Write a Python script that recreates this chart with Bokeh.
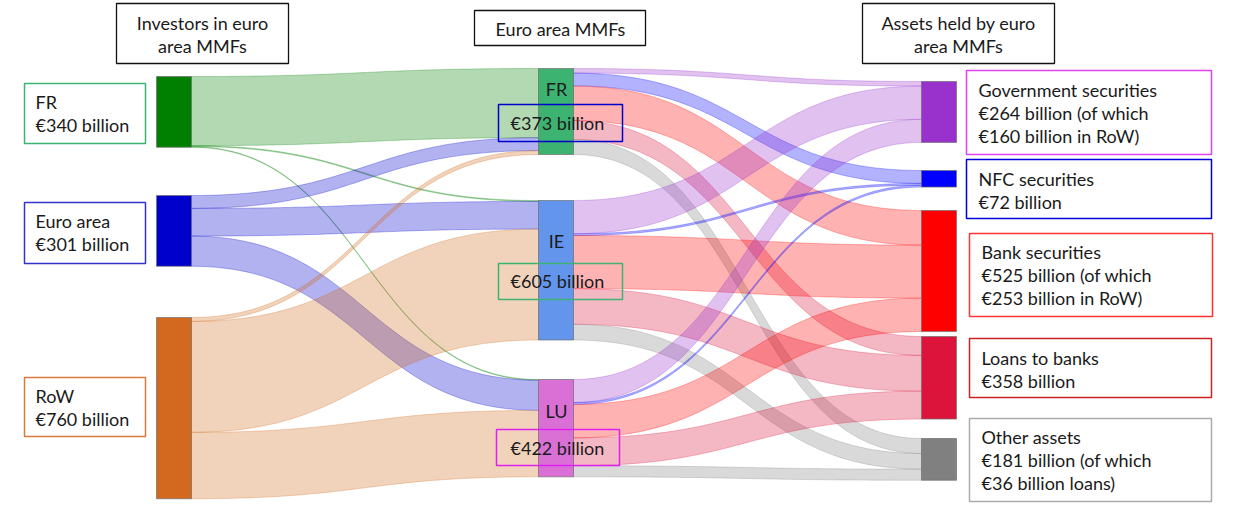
import numpy as np
from bokeh.plotting import figure
from bokeh.models import Range1d
from bokeh.core.properties import value
from bokeh.embed import file_html
from bokeh.resources import INLINE

# ---------------- data (EUR billion) ----------------
investor_names = ["FR", "Euro area", "RoW"]
investor_totals = [340, 301, 760]
mmf_names = ["FR", "IE", "LU"]
mmf_totals = [373, 605, 422]
asset_names = ["Government securities", "NFC securities", "Bank securities",
               "Loans to banks", "Other assets"]
asset_totals = [264, 72, 525, 358, 181]
asset_of_which = ["€160 billion in RoW)", None, "€253 billion in RoW)", None,
                  "€36 billion loans)"]

# investor -> MMF domicile flows (FR, IE, LU)
flows_from_FR = [300, 4, 3]
flows_from_EA = [56, 120, 131]
flows_from_RoW = [17, 481, 288]
# MMF domicile -> asset flows (Gov, NFC, Bank, Loans, Other)
flows_mmf_FR = [20, 56, 150, 82, 65]
flows_mmf_IE = [144, 8, 230, 155, 68]
flows_mmf_LU = [100, 8, 145, 121, 48]

header_titles = [["Investors in euro", "area MMFs"], ["Euro area MMFs"],
                 ["Assets held by euro", "area MMFs"]]

# ---------------- styling / layout ----------------
FONT = "Lato"
FS = "18px"
PX = 0.2306  # pixels per EUR billion
col_x = [(156, 191), (538, 573), (921, 956)]
node_tops = [[76, 195, 317], [68, 200, 379], [81, 170, 210, 336, 438]]
node_colors = [["#008000", "#0000CD", "#D2691E"],
               ["#3CB371", "#6495ED", "#DA70D6"],
               ["#9932CC", "#0000FF", "#FF0000", "#DC143C", "#808080"]]

m1 = np.array([flows_from_FR, flows_from_EA, flows_from_RoW], dtype=float)
m2 = np.array([flows_mmf_FR, flows_mmf_IE, flows_mmf_LU], dtype=float)
sizes = [m1.sum(axis=1), m1.sum(axis=0), m2.sum(axis=0)]

p = figure(width=1240, height=506, x_range=Range1d(0, 1240), y_range=Range1d(506, 0),
           output_backend="svg", toolbar_location=None, min_border=0)
p.axis.visible = False
p.grid.visible = False
p.outline_line_color = None
p.background_fill_color = "white"


def band(x0, x1, y0a, y0b, y1a, y1b, n=60):
    t = np.linspace(0, 1, n)
    xm = (x0 + x1) / 2
    bx = (1 - t) ** 3 * x0 + 3 * (1 - t) ** 2 * t * xm + 3 * (1 - t) * t ** 2 * xm + t ** 3 * x1

    def by(a, b):
        return (1 - t) ** 3 * a + 3 * (1 - t) ** 2 * t * a + 3 * (1 - t) * t ** 2 * b + t ** 3 * b
    top = by(y0a, y1a)
    bot = by(y0b, y1b)
    return list(np.concatenate([bx, bx[::-1]])), list(np.concatenate([top, bot[::-1]]))


def draw_links(mat, c_src, c_tgt, colors_by):
    ns, nt = mat.shape
    xs_all, ys_all, cols = [], [], []
    tgt_start = {}
    for j in range(nt):
        off = node_tops[c_tgt][j]
        for i in range(ns):
            tgt_start[(i, j)] = off
            off += mat[i, j] * PX
    for i in range(ns):
        off = node_tops[c_src][i]
        for j in range(nt):
            h = mat[i, j] * PX
            y1a = tgt_start[(i, j)]
            bx, by = band(col_x[c_src][1], col_x[c_tgt][0], off, off + h, y1a, y1a + h)
            off += h
            xs_all.append(bx)
            ys_all.append(by)
            cols.append(colors_by(i, j))
    p.patches(xs_all, ys_all, fill_color=cols, fill_alpha=0.3,
              line_color=cols, line_alpha=0.35, line_width=0.8)


draw_links(m1, 0, 1, lambda i, j: node_colors[0][i])
draw_links(m2, 1, 2, lambda i, j: node_colors[2][j])

# nodes
for c in range(3):
    tops = np.array(node_tops[c], dtype=float)
    bots = tops + sizes[c] * PX
    p.quad(left=col_x[c][0], right=col_x[c][1], top=tops, bottom=bots,
           fill_color=node_colors[c], line_color="#6f6f6f", line_width=1, line_alpha=0.7)


def box(x0, x1, y0, y1, color, lw=1.5, fill="white"):
    p.quad(left=x0, right=x1, top=y0, bottom=y1, fill_color=fill,
           fill_alpha=1 if fill else 0, line_color=color, line_width=lw)


def lines(x, y0, texts, align="left", step=23):
    ys = [y0 + k * step for k in range(len(texts))]
    p.text(x=[x] * len(texts), y=ys, text=texts, text_font=value(FONT),
           text_font_size=value(FS), text_color="#1a1a1a", text_align=align,
           text_baseline="middle")


# header boxes
header_boxes = [(116, 288, 3, 63, 202, [22, 45]), (474, 645, 10, 45, 560, [28]),
                (862, 1054, 3, 63, 958, [22, 45])]
for (x0, x1, y0, y1, xc, ys), title in zip(header_boxes, header_titles):
    box(x0, x1, y0, y1, "#111111", lw=1.3)
    lines(xc, ys[0], title, align="center")

# left label boxes
left_box_y = [(83, 143, 101), (202, 263, 220), (377, 436, 395)]
left_box_col = ["#3CB371", "#3333CC", "#D97A3A"]
for k, (y0, y1, ty) in enumerate(left_box_y):
    box(24, 145, y0, y1, left_box_col[k])
    lines(35, ty, [investor_names[k], f"€{investor_totals[k]} billion"])

# middle node names and value boxes
mid_name_y = [88, 240, 410]
mid_box = [(498, 622, 104, 141, 122, "#0000CC"), (498, 622, 263, 299, 280, "#3CB371"),
           (496, 619, 429, 465, 447, "#E020F0")]
for k in range(3):
    lines(556, mid_name_y[k], [mmf_names[k]], align="center")
    x0, x1, y0, y1, ty, col = mid_box[k]
    box(x0, x1, y0, y1, col, fill=None)
    lines(510, ty, [f"€{mmf_totals[k]} billion"])

# right label boxes
right_box = [(966, 1211, 70, 154, 89, "#E040F0"), (966, 1211, 159, 218, 178, "#0000DD"),
             (969, 1212, 233, 316, 251, "#FF3333"), (969, 1211, 338, 397, 357, "#CC2222"),
             (969, 1211, 418, 501, 436, "#AAAAAA")]
for k in range(5):
    x0, x1, y0, y1, ty, col = right_box[k]
    box(x0, x1, y0, y1, col)
    if asset_of_which[k]:
        txt = [asset_names[k], f"€{asset_totals[k]} billion (of which", asset_of_which[k]]
    else:
        txt = [asset_names[k], f"€{asset_totals[k]} billion"]
    lines(x0 + 12, ty, txt)

open("out.html", "w").write(file_html(p, INLINE))
